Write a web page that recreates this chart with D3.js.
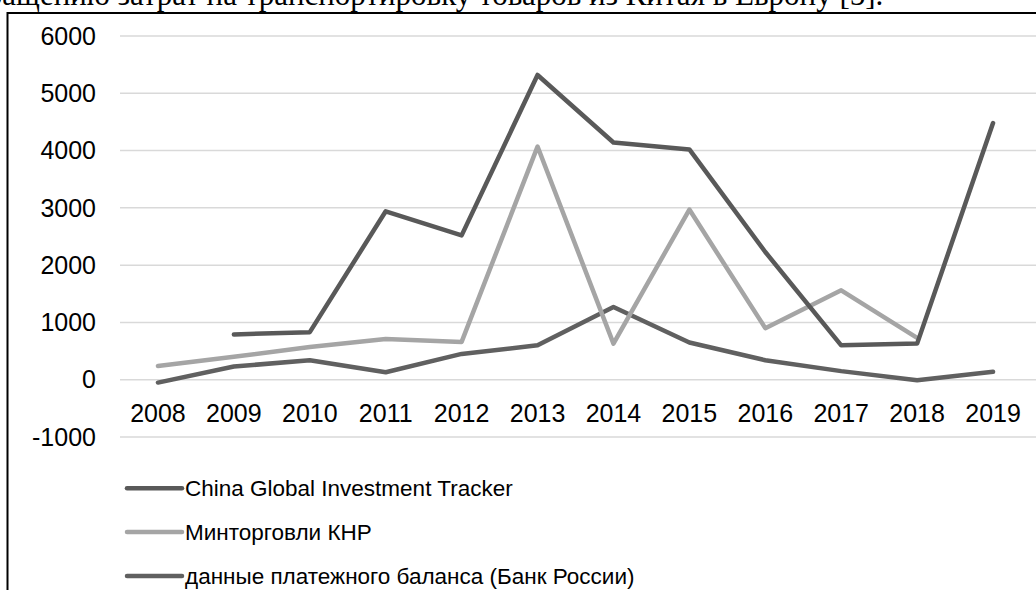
<!DOCTYPE html>
<html>
<head>
<meta charset="utf-8">
<script src="https://cdn.jsdelivr.net/npm/d3@7"></script>
<style>
  html, body { margin: 0; padding: 0; background: #fff; }
  svg { display: block; }
</style>
</head>
<body>
<svg id="chart" width="1036" height="590"></svg>
<script>
// ---- data ----
const years = ["2008","2009","2010","2011","2012","2013","2014","2015","2016","2017","2018","2019"];
const seriesNames = ["China Global Investment Tracker", "Минторговли КНР", "данные платежного баланса (Банк России)"];
const cgit = [null, 790, 830, 2940, 2520, 5320, 4140, 4020, 2230, 600, 630, 4480];
const mofcom = [240, 400, 570, 710, 660, 4070, 630, 2970, 900, 1560, 730, null];
const bop = [-50, 230, 340, 130, 450, 600, 1270, 650, 340, 150, -10, 140];
const yTicks = [-1000, 0, 1000, 2000, 3000, 4000, 5000, 6000];
const seriesColors = ["#595959", "#a5a5a5", "#606060"];
const captionPrefix = "сокращению ";
const captionText = "сокращению затрат на транспортировку товаров из Китая в Европу [5].";

const svg = d3.select("#chart");
const W = 1036, H = 590;

// caption text cut at the top
const cap = svg.append("text")
  .attr("x", 0).attr("y", 5)
  .style("font-family", "'Liberation Serif', 'Times New Roman', serif")
  .style("font-size", "31px")
  .attr("fill", "#000")
  .text(captionPrefix);
const prefixW = cap.node().getComputedTextLength();
cap.text(captionText).attr("x", 110 - prefixW);

// frame
svg.append("rect")
  .attr("x", 7.5).attr("y", 13)
  .attr("width", 1200).attr("height", 800)
  .attr("fill", "#fff")
  .attr("stroke", "#000")
  .attr("stroke-width", 2);

const x = d3.scaleBand().domain(years).range([120, 1031]);
const y = d3.scaleLinear().domain([-1000, 6000]).range([437, 36]);

// gridlines
svg.append("g").selectAll("line").data(yTicks).join("line")
  .attr("x1", 120).attr("x2", W)
  .attr("y1", d => y(d)).attr("y2", d => y(d))
  .attr("stroke", "#d9d9d9").attr("stroke-width", 1.5);

// y axis labels
const yAxis = d3.axisLeft(y).tickValues(yTicks).tickSize(0).tickPadding(0).tickFormat(d => String(d));
const gy = svg.append("g").attr("transform", "translate(96,0)").call(yAxis);
gy.select(".domain").remove();
gy.selectAll("text")
  .style("font-family", "'Liberation Sans', Arial, sans-serif")
  .style("font-size", "25px")
  .attr("fill", "#000")
  .attr("dy", "0.33em");

// x axis labels (positioned below zero line)
const xAxis = d3.axisBottom(x).tickSize(0).tickPadding(0);
const gx = svg.append("g").attr("transform", `translate(0,${y(0)})`).call(xAxis);
gx.select(".domain").remove();
gx.selectAll("text")
  .style("font-family", "'Liberation Sans', Arial, sans-serif")
  .style("font-size", "25px")
  .attr("fill", "#000")
  .attr("dy", null)
  .attr("y", 42.5);

// lines
const allSeries = [cgit, mofcom, bop];
const line = d3.line()
  .defined(d => d != null)
  .x((d, i) => x(years[i]) + x.bandwidth() / 2)
  .y(d => y(d));

// draw order: bop (bottom), mofcom, cgit on top
[2, 1, 0].forEach(k => {
  svg.append("path")
    .datum(allSeries[k])
    .attr("d", line)
    .attr("fill", "none")
    .attr("stroke", seriesColors[k])
    .attr("stroke-width", 4.5)
    .attr("stroke-linejoin", "round")
    .attr("stroke-linecap", "round");
});

// legend
const legend = svg.append("g");
seriesNames.forEach((name, k) => {
  const ly = 488.3 + k * 43.8;
  legend.append("line")
    .attr("x1", 127).attr("x2", 182)
    .attr("y1", ly).attr("y2", ly)
    .attr("stroke", seriesColors[k])
    .attr("stroke-width", 4.5)
    .attr("stroke-linecap", "round");
  legend.append("text")
    .attr("x", 185).attr("y", ly)
    .attr("dy", "0.35em")
    .style("font-family", "'Liberation Sans', Arial, sans-serif")
    .style("font-size", "22.5px")
    .attr("fill", "#000")
    .text(name);
});
</script>
</body>
</html>
